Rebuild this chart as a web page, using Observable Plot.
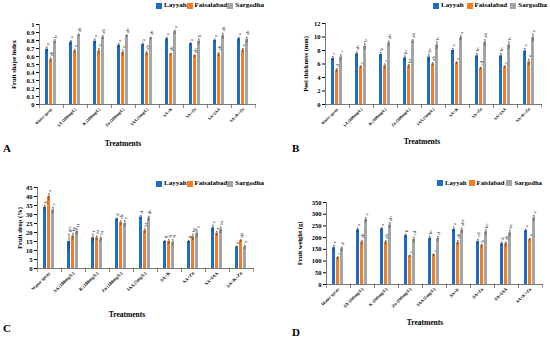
<!DOCTYPE html>
<html><head><meta charset="utf-8">
<script src="https://cdn.jsdelivr.net/npm/d3@7"></script>
<script src="https://cdn.jsdelivr.net/npm/@observablehq/plot@0.6"></script>
<style>
body{margin:0;background:#fff;}
#root{position:relative;width:550px;height:337px;overflow:hidden;font-family:"Liberation Serif","Times New Roman",serif;font-weight:bold;color:#000;background:#fff}
.panel{position:absolute}
.legend{position:absolute;display:flex;align-items:center;white-space:nowrap;line-height:1}
.li{display:inline-flex;align-items:center;flex:none}
.sw{display:inline-block;width:6px;height:6px;margin-right:2px;flex:none}
.t{position:absolute;white-space:nowrap;transform:translate(-50%,-50%);font-size:7.5px}
.lab{position:absolute;font-size:11px;line-height:1}
</style></head><body><div id="root"></div>
<script>
const treatments = ["Water spray","SA (100mg/L)","K (100mg/L)","Zn (100mg/L)","IAA (5mg/L)","SA+K","SA+Zn","SA+IAA","SA+K+Zn"];
const regions = ["Layyah","Faisalabad","Sargodha"];
const colors = ["#1c6cc8","#f97c21","#a5a5a5"];

// Panel A: Fruit shape index
const shapeL = [0.69,0.78,0.79,0.74,0.75,0.82,0.76,0.80,0.82];
const shapeF = [0.56,0.67,0.67,0.65,0.64,0.63,0.61,0.63,0.68];
const shapeS = [0.79,0.87,0.84,0.86,0.83,0.91,0.79,0.86,0.81];
const shapeErrL = [0.03,0.02,0.03,0.02,0.02,0.02,0.01,0.02,0.02];
const shapeErrF = [0.02,0.02,0.03,0.03,0.02,0.01,0.01,0.02,0.02];
const shapeErrS = [0.02,0.01,0.02,0.01,0.01,0.02,0.03,0.03,0.03];
const shapeLetL = ["a","a","a","a","a","a","a","a","a"];
const shapeLetF = ["ab","a","a","a","ab","ab","ab","ab","a"];
const shapeLetS = ["b","ab","ab","ab","ab","a","b","ab","ab"];
const shapeTicks = [0,0.1,0.2,0.3,0.4,0.5,0.6,0.7,0.8,0.9,1];

// Panel B: Peel thickness
const peelL = [6.8,7.5,7.4,6.9,7.0,8.0,7.2,7.2,7.9];
const peelF = [5.1,5.6,5.7,5.7,6.0,6.2,5.4,5.6,6.3];
const peelS = [7.0,8.6,9.1,9.4,8.8,9.9,9.2,8.8,9.9];
const peelErrL = [0.3,0.3,0.3,0.3,0.4,0.3,0.4,0.4,0.4];
const peelErrF = [0.2,0.1,0.3,0.2,0.2,0.1,0.1,0.1,0.4];
const peelErrS = [0.4,0.4,0.3,0.2,0.5,0.3,0.4,0.5,0.5];
const peelLetL = ["c","ab","b","bc","bc","a","bc","bc","a"];
const peelLetF = ["d","c","c","bc","ab","a","cd","c","a"];
const peelLetS = ["c","b","ab","ab","b","a","ab","b","a"];
const peelTicks = [0,2,4,6,8,10,12];

// Panel C: Fruit drop
const dropL = [34,15,17,27.5,28.5,15,15,22.5,12];
const dropF = [40,18,17,25.5,21,15,17.5,19.5,15.5];
const dropS = [32.5,20.5,16.5,25,28,14.5,19.5,21.5,12];
const dropErrL = [1,4,2,0.5,1,0.5,0.5,1.5,0.5];
const dropErrF = [1.5,1.5,1,1,1,1,1.5,1,0.5];
const dropErrS = [1.5,1.5,1,1.5,1,1.5,2,1.5,1];
const dropLetL = ["b","gh","f","d","d","ij","ij","e","k"];
const dropLetF = ["a","fg","hi","de","hi","ij","fg","j","ijk"];
const dropLetS = ["c","ij","hi","e","de","ij","j","hi","k"];
const dropTicks = [0,5,10,15,20,25,30,35,40,45];

// Panel D: Fruit weight
const weightL = [157,233,238,209,197,235,183,174,230];
const weightF = [115,181,181,122,127,180,166,174,193];
const weightS = [153,277,253,192,196,232,224,220,284];
const weightErrL = [10,8,4,6,9,10,10,7,6];
const weightErrF = [3,8,6,3,3,8,5,7,4];
const weightErrS = [7,9,10,9,8,9,9,11,10];
const weightLetL = ["e","a","a","b","bc","a","cd","d","a"];
const weightLetF = ["c","ab","ab","c","c","ab","b","ab","a"];
const weightLetS = ["d","a","ab","cd","d","abc","bc","bc","a"];
const weightTicks = [0,50,100,150,200,250,300,350];

function tidy(vals, errs, lets) {
  const out = [];
  treatments.forEach((t, i) => regions.forEach((r, j) => out.push({t, r, v: vals[j][i], e: errs[j][i], l: lets[j][i]})));
  return out;
}

const panels = [
  {left:0, top:0, height:160, mL:37, mR:19, mT:24, mB:56, ylabel:"Fruit shape index", ticks:shapeTicks, labelOffset:28, fxFont:4.2,
   data: tidy([shapeL,shapeF,shapeS],[shapeErrL,shapeErrF,shapeErrS],[shapeLetL,shapeLetF,shapeLetS]),
   legend:{x:156,y:2,font:7,gap:0,names:["Layyah","Faisalabad","Sargodha"]}, tr:{x:123,y:143}, letter:{t:"A",x:3,y:143}},
  {left:275, top:0, height:160, mL:47, mR:7, mT:23, mB:56, ylabel:"Peel thickness (mm)", ticks:peelTicks, labelOffset:22, fxFont:4.2,
   data: tidy([peelL,peelF,peelS],[peelErrL,peelErrF,peelErrS],[peelLetL,peelLetF,peelLetS]),
   legend:{x:433,y:2,font:7,gap:3,names:["Layyah","Faisalabad","Sargodha"]}, tr:{x:422,y:141}, letter:{t:"B",x:292,y:143}},
  {left:0, top:168, height:169, mL:33, mR:18, mT:19, mB:69, ylabel:"Fruit drop (%)", ticks:dropTicks, labelOffset:20, fxFont:4.6,
   data: tidy([dropL,dropF,dropS],[dropErrL,dropErrF,dropErrS],[dropLetL,dropLetF,dropLetS]),
   legend:{x:156,y:180,font:7,gap:0,names:["Layyah","Faisalabad","Sargodha"]}, tr:{x:127,y:314}, letter:{t:"C",x:3,y:323}},
  {left:275, top:168, height:169, mL:49, mR:7, mT:34, mB:53, ylabel:"Fruit weight (g)", ticks:weightTicks, labelOffset:29, fxFont:4.4,
   data: tidy([weightL,weightF,weightS],[weightErrL,weightErrF,weightErrS],[weightLetL,weightLetF,weightLetS]),
   legend:{x:437,y:180,font:6.7,gap:2,names:["Layyah","Faislabad","Sargodha"]}, tr:{x:425,y:322}, letter:{t:"D",x:292,y:327}}
];

const root = document.getElementById("root");
for (const p of panels) {
  const plotH = p.height - p.mT - p.mB;
  const ticks = p.ticks;
  const chart = Plot.plot({
    width: 275, height: p.height,
    marginLeft: p.mL, marginRight: p.mR, marginTop: p.mT, marginBottom: p.mB,
    style: {fontFamily: "Liberation Serif, Times New Roman, serif", fontWeight: "bold", background: "transparent", overflow: "visible"},
    fx: {domain: treatments, padding: 0, label: null},
    x: {domain: regions, paddingInner: 0.2, paddingOuter: 1.25, axis: null},
    y: {domain: [ticks[0], ticks[ticks.length-1]]},
    color: {domain: regions, range: colors},
    marks: [
      Plot.barY(p.data, {fx: "t", x: "r", y: "v", fill: "r"}),
      Plot.ruleX(p.data, {fx: "t", x: "r", y1: d => d.v - d.e, y2: d => d.v + d.e, stroke: "#222", strokeWidth: 0.6}),
      Plot.tickY(p.data, {fx: "t", x: "r", y: d => d.v + d.e, stroke: "#222", strokeWidth: 0.6, inset: 1}),
      Plot.tickY(p.data, {fx: "t", x: "r", y: d => d.v - d.e, stroke: "#222", strokeWidth: 0.6, inset: 1}),
      Plot.text(p.data, {fx: "t", x: "r", y: d => d.v + d.e, text: "l", rotate: -90, textAnchor: "start", dy: -2, fontSize: 5, fontWeight: "normal", fill: "#222"}),
      Plot.frame({anchor: "left", insetTop: plotH, insetBottom: -3, stroke: "#666", strokeWidth: 0.6}),
      Plot.frame({anchor: "right", insetTop: plotH, insetBottom: -3, stroke: "#666", strokeWidth: 0.6}),
      Plot.frame({anchor: "left", facet: "super", stroke: "#555", strokeWidth: 0.8}),
      Plot.frame({anchor: "bottom", facet: "super", stroke: "#555", strokeWidth: 0.8}),
      Plot.axisY({ticks: ticks, tickFormat: d => String(d), tickSize: 3, tickPadding: 2, fontSize: 6.5,
        label: p.ylabel, labelAnchor: "center", labelOffset: p.labelOffset, labelArrow: "none"}),
      Plot.axisFx({anchor: "bottom", tickSize: 0, tickRotate: -45, tickPadding: 4, fontSize: p.fxFont, label: null})
    ]
  });
  const wrap = document.createElement("div");
  wrap.className = "panel";
  wrap.style.left = p.left + "px";
  wrap.style.top = p.top + "px";
  wrap.appendChild(chart);
  root.appendChild(wrap);

  const lg = document.createElement("div");
  lg.className = "legend";
  lg.style.left = p.legend.x + "px";
  lg.style.top = p.legend.y + "px";
  lg.style.fontSize = p.legend.font + "px";
  p.legend.names.forEach((n, i) => {
    const it = document.createElement("span");
    it.className = "li";
    if (i > 0) it.style.marginLeft = p.legend.gap + "px";
    const sw = document.createElement("span"); sw.className = "sw"; sw.style.background = colors[i];
    it.appendChild(sw); it.appendChild(document.createTextNode(n));
    lg.appendChild(it);
  });
  root.appendChild(lg);

  const tr = document.createElement("div");
  tr.className = "t"; tr.textContent = "Treatments";
  tr.style.left = p.tr.x + "px"; tr.style.top = p.tr.y + "px";
  root.appendChild(tr);

  const lt = document.createElement("div");
  lt.className = "lab"; lt.textContent = p.letter.t;
  lt.style.left = p.letter.x + "px"; lt.style.top = p.letter.y + "px";
  root.appendChild(lt);
}
</script></body></html>
